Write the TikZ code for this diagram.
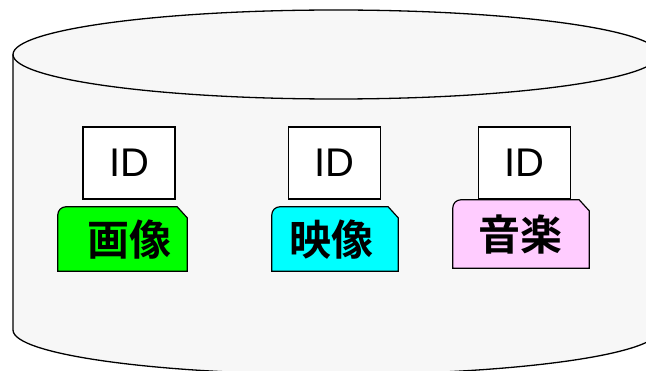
\documentclass[tikz,border=0pt]{standalone}
\usepackage{fontspec}
\setsansfont{Liberation Sans}
\newfontfamily\jpbold{Noto Sans CJK JP Bold}
\usetikzlibrary{calc}

\definecolor{dbgray}{HTML}{F7F7F7}
\definecolor{tabgreen}{HTML}{00FF00}
\definecolor{tabcyan}{HTML}{00FFFF}
\definecolor{tabpink}{HTML}{FFCCFF}

\tikzset{
	dbline/.style={line width=1.3pt, black},
	idbox/.style={draw, fill=white, line width=1.2pt, minimum width=92pt, minimum height=72pt,
		inner sep=0pt, font=\sffamily\fontsize{40}{40}\selectfont},
	tabframe/.style={minimum height=64pt, inner sep=0pt},
	tablabel/.style={inner sep=0pt, font=\jpbold\fontsize{42}{42}\selectfont},
	taboutline/.style={draw=black, line width=1.2pt},
}

% tab with round top-left corner and cut top-right corner
\newcommand{\tabshape}[2]{%
	\filldraw[taboutline, fill=#2] (#1.south west) -- ($(#1.north west)+(0,-8)$)
	arc[start angle=180, end angle=90, radius=8] -- ($(#1.north east)+(-10,0)$)
	-- ($(#1.north east)+(0,-11)$) -- (#1.south east) -- cycle;}

\begin{document}
\begin{tikzpicture}[x=1pt, y=1pt]
	% Parameters for the cylinder
	\def\cx{336}     % centre x
	\def\rx{323}     % half width
	\def\ry{44.5}    % half height of the ellipses
	\def\ytop{315.5} % top ellipse centre
	\def\ybot{40}    % bottom ellipse centre
	
	\useasboundingbox (0,0) rectangle (646,370);
	\clip (0,0) rectangle (646,370);
	
	% Database body
	\fill[dbgray] ({\cx-\rx},\ytop) -- ({\cx-\rx},\ybot)
	arc[start angle=180, end angle=360, x radius=\rx, y radius=\ry]
	-- ({\cx+\rx},\ytop)
	arc[start angle=0, end angle=180, x radius=\rx, y radius=\ry] -- cycle;
	\draw[dbline] ({\cx-\rx},\ytop) -- ({\cx-\rx},\ybot)
	arc[start angle=180, end angle=360, x radius=\rx, y radius=\ry]
	-- ({\cx+\rx},\ytop);
	\draw[dbline] (\cx,\ytop) ellipse[x radius=\rx, y radius=\ry];
	
	% ID boxes
	\node[idbox] (id1) at (129,207) {ID};
	\node[idbox] (id2) at (334.5,207) {ID};
	\node[idbox] (id3) at (524.5,207) {ID};
	
	% Media tabs
	\node[tabframe, minimum width=129pt] (tab1) at (122.5,131) {};
	\node[tabframe, minimum width=126pt] (tab2) at (335,131) {};
	\node[tabframe, minimum width=136pt, minimum height=68pt] (tab3) at (521,136) {};
	\tabshape{tab1}{tabgreen}
	\tabshape{tab2}{tabcyan}
	\tabshape{tab3}{tabpink}
	
	\node[tablabel] (img) at (129,130) {画像};
	\node[tablabel] (mov) at (331,130) {映像};
	\node[tablabel] (snd) at (520,135) {音楽};
\end{tikzpicture}
\end{document}
